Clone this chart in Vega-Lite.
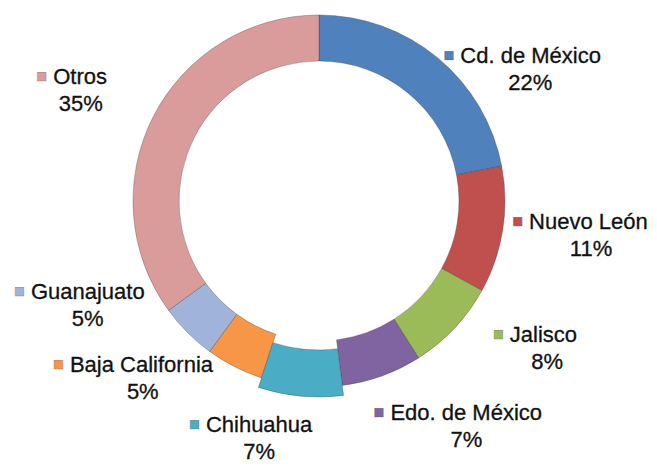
{
  "$schema": "https://vega.github.io/schema/vega-lite/v6.json",
  "width": 638,
  "height": 402,
  "autosize": {"type": "none"},
  "padding": {"left": 0, "top": 0, "right": 19, "bottom": 66},
  "background": "white",
  "view": {"stroke": null},
  "data": {"values": [
    {"k": 1, "name": "Cd. de México", "value": 22},
    {"k": 2, "name": "Nuevo León", "value": 11},
    {"k": 3, "name": "Jalisco", "value": 8},
    {"k": 4, "name": "Edo. de México", "value": 7},
    {"k": 5, "name": "Chihuahua", "value": 7},
    {"k": 6, "name": "Baja California", "value": 5},
    {"k": 7, "name": "Guanajuato", "value": 5},
    {"k": 8, "name": "Otros", "value": 35}
  ]},
  "transform": [
    {"stack": "value", "groupby": [], "sort": [{"field": "k", "order": "ascending"}], "as": ["v0", "v1"]},
    {"calculate": "PI*(datum.v0+datum.v1)/100", "as": "ang"},
    {"calculate": "265*(sin(datum.ang)<0?-1:1)*pow(abs(sin(datum.ang)),0.6) - 50*(sin(datum.ang)<0 ? max(0, sin(datum.ang)*cos(datum.ang)) : 0) + 9", "as": "lx"},
    {"calculate": "-225*(cos(datum.ang)<0?-1:1)*pow(abs(cos(datum.ang)),1.5) + 20 + 70*min(sin(datum.ang),0)", "as": "ly"},
    {"calculate": "12.2*length(datum.name) - 7.3*length(replace(datum.name, regexp('[^ijl.]','g'), '')) - 6.1*length(replace(datum.name, regexp('[^ ]','g'), '')) - 5*length(replace(datum.name, regexp('[^ftr]','g'), '')) + 4*length(replace(datum.name, regexp('[^A-Z]','g'), ''))", "as": "w"},
    {"calculate": "datum.value + '%'", "as": "pct"}
  ],
  "layer": [
    {
      "transform": [{"filter": "datum.name != 'Chihuahua'"}],
      "mark": {"type": "arc", "innerRadius": 140, "outerRadius": 186, "stroke": "#333333", "strokeWidth": 0.7, "strokeOpacity": 0.45},
      "encoding": {
        "theta": {"field": "v0", "type": "quantitative", "scale": {"domain": [0, 100]}},
        "theta2": {"field": "v1"},
        "color": {"field": "name", "type": "nominal", "legend": null,
          "scale": {"domain": ["Cd. de México", "Nuevo León", "Jalisco", "Edo. de México", "Chihuahua", "Baja California", "Guanajuato", "Otros"],
                    "range": ["#4F81BD", "#C0504D", "#9BBB59", "#8064A2", "#4BACC6", "#F79646", "#A0B3DA", "#D99C9A"]}}
      }
    },
    {
      "transform": [{"filter": "datum.name == 'Chihuahua'"}],
      "mark": {"type": "arc", "innerRadius": 149, "outerRadius": 196, "stroke": "#333333", "strokeWidth": 0.7, "strokeOpacity": 0.45},
      "encoding": {
        "theta": {"field": "v0", "type": "quantitative", "scale": {"domain": [0, 100]}},
        "theta2": {"field": "v1"},
        "color": {"field": "name", "type": "nominal", "legend": null}
      }
    },
    {
      "mark": {"type": "text", "font": "Liberation Sans", "fontSize": 18, "baseline": "middle", "align": "right", "stroke": "#555555", "strokeWidth": 0.4, "strokeOpacity": 0.6,
        "dx": {"expr": "datum.lx - datum.w/2 - 6"},
        "dy": {"expr": "datum.ly - 13"}},
      "encoding": {
        "theta": {"field": "v0", "type": "quantitative", "scale": {"domain": [0, 100]}},
        "radius": {"value": 0},
        "text": {"value": "■"},
        "color": {"field": "name", "type": "nominal", "legend": null}
      }
    },
    {
      "mark": {"type": "text", "font": "Liberation Sans", "fontSize": 22, "baseline": "middle", "align": "left", "fill": "#111111", "stroke": "#111111", "strokeWidth": 0.3,
        "dx": {"expr": "datum.lx - datum.w/2"},
        "dy": {"expr": "datum.ly - 13"}},
      "encoding": {
        "theta": {"field": "v0", "type": "quantitative", "scale": {"domain": [0, 100]}},
        "radius": {"value": 0},
        "text": {"field": "name"}
      }
    },
    {
      "mark": {"type": "text", "font": "Liberation Sans", "fontSize": 22, "baseline": "middle", "align": "center", "fill": "#111111", "stroke": "#111111", "strokeWidth": 0.3,
        "dx": {"expr": "datum.lx"},
        "dy": {"expr": "datum.ly + 14"}},
      "encoding": {
        "theta": {"field": "v0", "type": "quantitative", "scale": {"domain": [0, 100]}},
        "radius": {"value": 0},
        "text": {"field": "pct"}
      }
    }
  ]
}
